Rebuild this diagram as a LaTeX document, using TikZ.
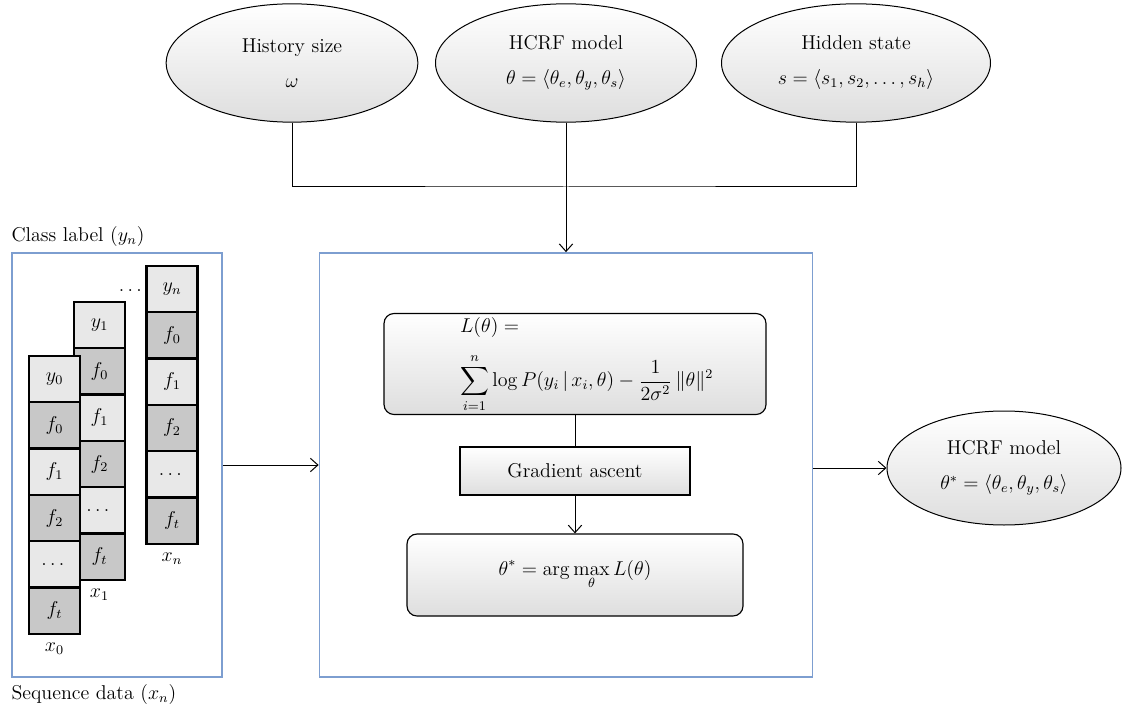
\documentclass[tikz,border=0pt]{standalone}
\usepackage{amsmath}
\usetikzlibrary{shapes.geometric, arrows.meta}
\definecolor{cellLight}{RGB}{232,232,232}
\definecolor{cellDark}{RGB}{200,200,200}
\definecolor{frameBlue}{RGB}{125,158,208}
\definecolor{shadeGray}{RGB}{222,222,222}
\tikzstyle{inputellipse} = [
    ellipse,
    minimum width=151pt,
    minimum height=71pt,
    inner sep=0pt,
    align=center,
    top color=white,
    bottom color=shadeGray,
    draw=black,
    line width=0.6pt
]
\tikzstyle{frame} = [
    rectangle,
    minimum height=254.4pt,
    draw=frameBlue,
    line width=1pt
]
\tikzstyle{process} = [
    rectangle,
    inner sep=0pt,
    top color=white,
    bottom color=shadeGray,
    draw=black,
    line width=0.7pt
]
\tikzstyle{roundbox} = [
    process,
    rounded corners=6pt
]
\tikzstyle{cell} = [
    rectangle,
    minimum width=30.6pt,
    minimum height=27.8pt,
    inner sep=0pt,
    draw=black,
    line width=1.3pt
]
\tikzstyle{lightcell} = [cell, fill=cellLight]
\tikzstyle{darkcell} = [cell, fill=cellDark]
\tikzstyle{line} = [line width=0.6pt]
\tikzstyle{arrow} = [line width=0.6pt,-{Straight Barb[length=4.5pt,width=8pt]}]

\begin{document}
\begin{tikzpicture}[x=0.6pt, y=-0.6pt, node distance=27.8pt, font=\fontsize{12}{14}\selectfont]

\useasboundingbox (0,0) rectangle (1123,706);

\node (hist) [inputellipse] at (292,63) {History size\\[7pt] $\omega$};

\node (hcrf) [inputellipse, minimum width=156.6pt] at (566,63) 
{HCRF model\\[7pt] $\theta = \langle\theta_e,\theta_y,\theta_s\rangle$};

\node (hidden) [inputellipse, minimum width=161.4pt] at (856,63) 
{Hidden state\\[7pt] $s = \langle s_1, s_2, \dots, s_h\rangle$};

\coordinate (join) at (566,187);

\node (data) [frame, minimum width=126pt] at (117,465) {};

\node (train) [frame, minimum width=295.8pt] at (566,465) {};

\node (classlbl) [anchor=south west, inner sep=0pt, yshift=3pt] at (data.north west) 
{Class label ($y_n$)};

\node (seqlbl) [anchor=north west, inner sep=0pt, yshift=-4pt] at (data.south west) 
{Sequence data ($x_n$)};

\node (yn) [lightcell] at (172,289) {$y_n$};
\node (fn0) [darkcell, below of=yn] {$f_0$};
\node (fn1) [lightcell, below of=fn0] {$f_1$};
\node (fn2) [darkcell, below of=fn1] {$f_2$};
\node (fndots) [lightcell, below of=fn2] {$\dots$};
\node (fnt) [darkcell, below of=fndots] {$f_t$};
\node (xn) [below of=fnt, node distance=23pt] {$x_n$};

\node (gap) at (132,291) {$\dots$};

\node (yone) [lightcell] at (99.5,325) {$y_1$};
\node (fone0) [darkcell, below of=yone] {$f_0$};
\node (fone1) [lightcell, below of=fone0] {$f_1$};
\node (fone2) [darkcell, below of=fone1] {$f_2$};
\node (fonedots) [lightcell, below of=fone2] {$\dots$};
\node (fonet) [darkcell, below of=fonedots] {$f_t$};
\node (xone) [below of=fonet, node distance=23pt] {$x_1$};

\node (yzero) [lightcell] at (54.5,379) {$y_0$};
\node (fzero0) [darkcell, below of=yzero] {$f_0$};
\node (fzero1) [lightcell, below of=fzero0] {$f_1$};
\node (fzero2) [darkcell, below of=fzero1] {$f_2$};
\node (fzerodots) [lightcell, below of=fzero2] {$\dots$};
\node (fzerot) [darkcell, below of=fzerodots] {$f_t$};
\node (xzero) [below of=fzerot, node distance=23pt] {$x_0$};

\node (lik) [roundbox, minimum width=229.2pt, minimum height=60.6pt] at (575,364) 
{\hspace*{14pt}$\begin{array}{@{}l@{}}
L(\theta) = \\[9pt]
\displaystyle\sum_{i=1}^{n} \log P(y_i\,|\,x_i,\theta) - \frac{1}{2\sigma^2}\,\|\theta\|^2
\end{array}$};

\node (grad) [process, minimum width=138pt, minimum height=28.8pt] at (575,471) 
{Gradient ascent};

\node (amax) [roundbox, minimum width=201.6pt, minimum height=49.2pt] at (575,575) 
{$\displaystyle\theta^* = \arg\max_{\theta} L(\theta)$};

\node (out) [inputellipse, minimum width=140.4pt, minimum height=68.4pt] at (1004,468) 
{HCRF model\\[7pt] $\theta^* = \langle\theta_e,\theta_y,\theta_s\rangle$};

\draw [line] (hist.south) |- (join) -| (hidden.south);
\draw [arrow] (hcrf.south) -- (train.north);
\draw [arrow] (data) -- (train);
\draw [arrow] (out.west -| train.east) -- (out.west);
\draw [line] (lik) -- (grad);
\draw [arrow] (grad) -- (amax);

\end{tikzpicture}
\end{document}
